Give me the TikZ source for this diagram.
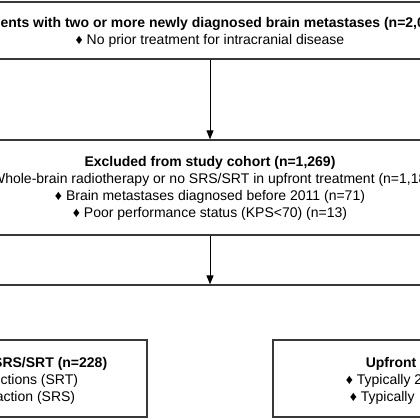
\documentclass[tikz,border=0pt]{standalone}
\usepackage{fontspec}
\setmainfont{Liberation Sans}
\usetikzlibrary{shapes.geometric, arrows.meta}
\definecolor{boxgrey}{rgb}{0.22,0.22,0.22}
\tikzstyle{wide} = [rectangle, minimum width=540pt, text centered, align=center, draw=boxgrey, line width=1.3pt, font=\fontsize{14}{17}\selectfont]
\tikzstyle{arm} = [rectangle, minimum width=248pt, minimum height=77pt, text centered, align=center, draw=boxgrey, line width=1.3pt, font=\fontsize{14}{17}\selectfont]
\tikzstyle{arrow} = [line width=0.9pt, -{Triangle[length=9pt,width=7pt]}]
% width of the text that lies past the edge of the crop
\newcommand{\offcut}[1]{\rule{#1pt}{0pt}}
\newcommand{\topstrut}{\rule{0pt}{14pt}}

\begin{document}
\begin{tikzpicture}[x=1pt, y=1pt, node distance=157pt]
	\useasboundingbox (0,0) rectangle (420,420);
	\clip (0,0) rectangle (420,420);
	\node (pool) [wide, minimum height=57pt] at (210,389.5) {\topstrut\textbf{Patients with two or more newly diagnosed brain metastases (n=2,0\phantom{00)}}\\ ♦ No prior treatment for intracranial disease};
	\node (excl) [wide, minimum height=95pt, below of=pool] {\rule{0pt}{12pt}\textbf{Excluded from study cohort (n=1,269)}\\ ♦ Whole-brain radiotherapy or no SRS/SRT in upfront treatment (n=1,185)\\ ♦ Brain metastases diagnosed before 2011 (n=71)\\ ♦ Poor performance status (KPS<70) (n=13)};
	\node (cohort) [wide, minimum height=180pt, below of=excl, yshift=-30.5pt] {};
	\node (srs) [arm, left of=cohort, xshift=-30pt, yshift=-3.5pt] {\topstrut\offcut{54.4}\textbf{SRS/SRT (n=228)}\\ \offcut{32.6}ctions (SRT)\\ \offcut{25}action (SRS)};
	\node (upf) [arm, right of=cohort, xshift=30pt, yshift=-3.5pt] {\topstrut\textbf{Upfront}\offcut{11.9}\\ ♦ Typically 2\offcut{26}\\ ♦ Typically\offcut{29.7}};
	%lines
	\draw [arrow] (pool) -- (excl);
	\draw [arrow] (excl) -- (cohort);
\end{tikzpicture}
\end{document}
